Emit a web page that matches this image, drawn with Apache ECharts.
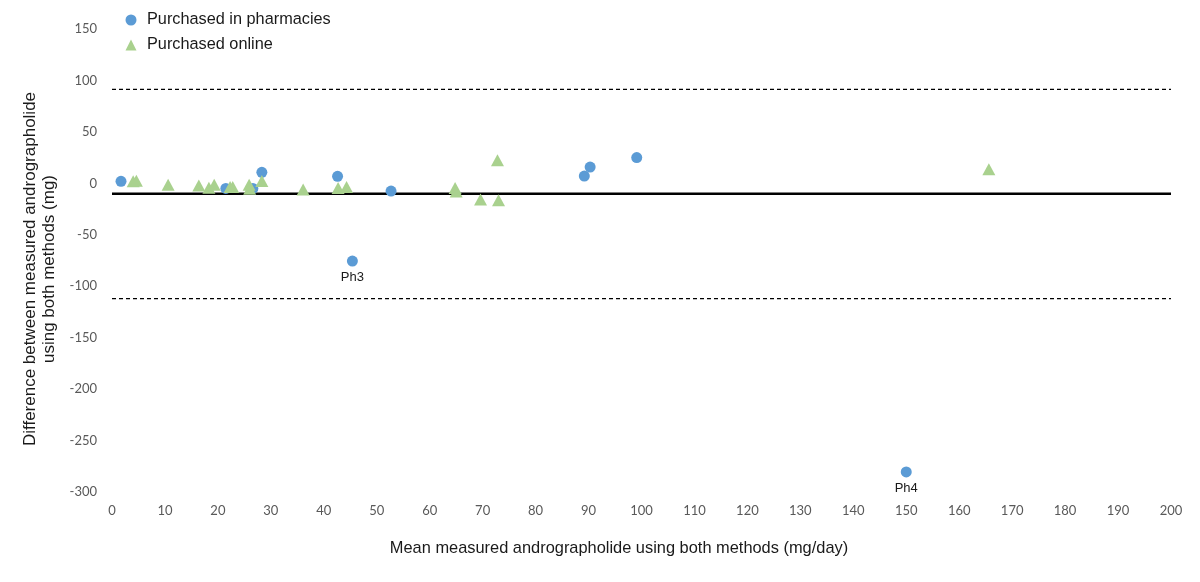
<!DOCTYPE html>
<html>
<head>
<meta charset="utf-8">
<script src="https://cdn.jsdelivr.net/npm/echarts@6/dist/echarts.min.js"></script>
<style>html,body{margin:0;padding:0;background:#fff}#chart{width:1200px;height:582px}</style>
</head>
<body>
<div id="chart"></div>
<script>
const pharmacyX = [1.7, 21.5, 26.6, 28.3, 42.6, 45.4, 52.7, 89.2, 90.3, 99.1, 150];
const pharmacyY = [2, -5, -5, 10.7, 6.8, -75.5, -7.5, 7.1, 15.8, 25, -280.5];
const pharmacyLabels = ['', '', '', '', '', 'Ph3', '', '', '', '', 'Ph4'];
const onlineX = [4.0, 4.6, 10.6, 16.4, 18.3, 19.3, 22.3, 22.8, 25.9, 26.0, 28.3, 36.1, 42.7, 44.3, 64.8, 65.0, 69.6, 73.0, 72.8, 165.6];
const onlineY = [2, 2.5, -1.3, -2, -4.2, -1.3, -3.6, -3.6, -1.3, -5.2, 2.2, -6.1, -4.5, -3.6, -4.5, -8, -15.6, -16.5, 22.4, 13.6];
const meanDiff = -10.2;
const upperLoA = 91.4;
const lowerLoA = -112;
const xRange = [0, 200];
const yRange = [-300, 150];
const xTitle = 'Mean measured andrographolide using both methods (mg/day)';
const yTitle = 'Difference between measured andrographolide\nusing both methods (mg)';

const chart = echarts.init(document.getElementById('chart'));
const tickFont = {color: '#595959', fontSize: 13, fontFamily: 'Lato, "Open Sans", sans-serif'};
const titleFont = '"Liberation Sans", Arial, sans-serif';
chart.setOption({
  animation: false,
  grid: {left: 112, right: 29, top: 29, bottom: 90},
  legend: {
    orient: 'vertical', left: 120.5, top: 7, itemGap: 9, itemWidth: 11, itemHeight: 11,
    textStyle: {fontSize: 16.3, color: '#1a1a1a', fontFamily: titleFont, padding: [0, 0, 0, 5.5]},
    data: [
      {name: 'Purchased in pharmacies', icon: 'circle'},
      {name: 'Purchased online', icon: 'triangle'}
    ]
  },
  xAxis: {
    type: 'value', min: xRange[0], max: xRange[1], interval: 10,
    axisLine: {show: false}, axisTick: {show: false}, splitLine: {show: false},
    axisLabel: Object.assign({margin: 12}, tickFont)
  },
  yAxis: {
    type: 'value', min: yRange[0], max: yRange[1], interval: 50,
    axisLine: {show: false}, axisTick: {show: false}, splitLine: {show: false},
    axisLabel: Object.assign({margin: 15}, tickFont)
  },
  graphic: [
    {
      type: 'text', x: 619, y: 548, silent: true,
      style: {text: xTitle, fontSize: 16.4, fill: '#1a1a1a', fontFamily: titleFont, align: 'center', verticalAlign: 'middle'}
    },
    {
      type: 'text', x: 39.5, y: 269, rotation: Math.PI / 2, silent: true,
      style: {text: yTitle, fontSize: 17, lineHeight: 19, fill: '#1a1a1a', fontFamily: titleFont, align: 'center', verticalAlign: 'middle'}
    }
  ],
  series: [
    {
      name: 'Upper LoA', type: 'line', silent: true, symbol: 'none', z: 1,
      lineStyle: {color: '#000', width: 1.2, type: [4, 3]},
      data: [[xRange[0], upperLoA], [xRange[1], upperLoA]]
    },
    {
      name: 'Lower LoA', type: 'line', silent: true, symbol: 'none', z: 1,
      lineStyle: {color: '#000', width: 1.2, type: [4, 3]},
      data: [[xRange[0], lowerLoA], [xRange[1], lowerLoA]]
    },
    {
      name: 'Mean', type: 'line', silent: true, symbol: 'none', z: 1,
      lineStyle: {color: '#000', width: 2.5},
      data: [[xRange[0], meanDiff], [xRange[1], meanDiff]]
    },
    {
      name: 'Purchased in pharmacies', type: 'scatter', symbol: 'circle', symbolSize: 11, z: 3,
      itemStyle: {color: '#5B9BD5', opacity: 1},
      label: {show: true, position: 'bottom', distance: 4, color: '#1a1a1a', fontSize: 13, fontFamily: titleFont, formatter: p => pharmacyLabels[p.dataIndex]},
      data: pharmacyX.map((x, i) => [x, pharmacyY[i]])
    },
    {
      name: 'Purchased online', type: 'scatter', symbol: 'triangle', symbolSize: [13, 12], z: 4,
      itemStyle: {color: '#A9D18E', opacity: 1},
      data: onlineX.map((x, i) => [x, onlineY[i]])
    }
  ]
});
</script>
</body>
</html>
